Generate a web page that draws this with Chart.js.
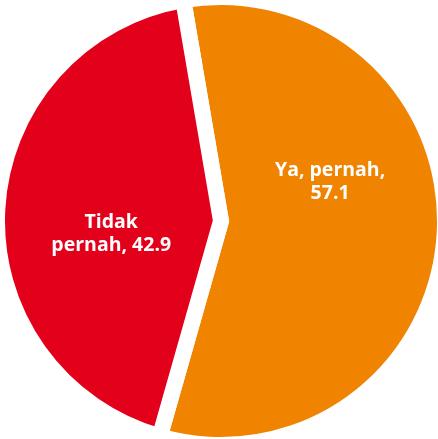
<!DOCTYPE html>
<html>
<head>
<meta charset="utf-8">
<script src="https://cdn.jsdelivr.net/npm/chart.js@4"></script>
<style>
  html, body { margin: 0; padding: 0; background: #ffffff; overflow: hidden; }
  #wrap { width: 438px; height: 439px; position: relative; }
</style>
</head>
<body>
<div id="wrap"><canvas id="c" width="438" height="439"></canvas></div>
<script>
const categories = ["Ya, pernah", "Tidak pernah"];
const values = [57.1, 42.9];
const colors = ["#F08300", "#E3001B"];
// number of words kept on the first line of each slice label
const labelBreakAfter = [2, 1];

const labelFont = "bold 19.5px 'Open Sans', sans-serif";

const sliceLabels = {
  id: "sliceLabels",
  afterDatasetsDraw(chart, args, opts) {
    const ctx = chart.ctx;
    const meta = chart.getDatasetMeta(0);
    ctx.save();
    ctx.font = labelFont;
    ctx.fillStyle = "#ffffff";
    ctx.textAlign = "center";
    ctx.textBaseline = "middle";
    meta.data.forEach((arc, i) => {
      const r = arc.outerRadius;
      const pos = opts.positions[i];
      const cx = arc.x + pos[0] * r;
      const cy = arc.y + pos[1] * r;
      const words = (categories[i] + ", " + values[i].toFixed(1)).split(" ");
      const n = labelBreakAfter[i];
      const lines = [words.slice(0, n).join(" "), words.slice(n).join(" ")];
      const lh = 23;
      const y0 = cy - (lines.length - 1) * lh / 2;
      lines.forEach((l, k) => ctx.fillText(l, cx, y0 + k * lh));
    });
    ctx.restore();
  }
};

new Chart(document.getElementById("c"), {
  type: "pie",
  data: {
    labels: categories,
    datasets: [{
      data: values,
      backgroundColor: colors,
      borderColor: "#ffffff",
      borderWidth: 16,
      borderJoinStyle: "miter",
      radius: 224
    }]
  },
  options: {
    responsive: false,
    animation: false,
    rotation: -9.7,
    layout: { padding: { left: 4, top: 3, right: 0, bottom: 0 } },
    plugins: {
      legend: { display: false },
      tooltip: { enabled: false },
      sliceLabels: { positions: [[0.487, -0.175], [-0.49, 0.058]] }
    },
    events: []
  },
  plugins: [sliceLabels]
});
</script>
</body>
</html>
